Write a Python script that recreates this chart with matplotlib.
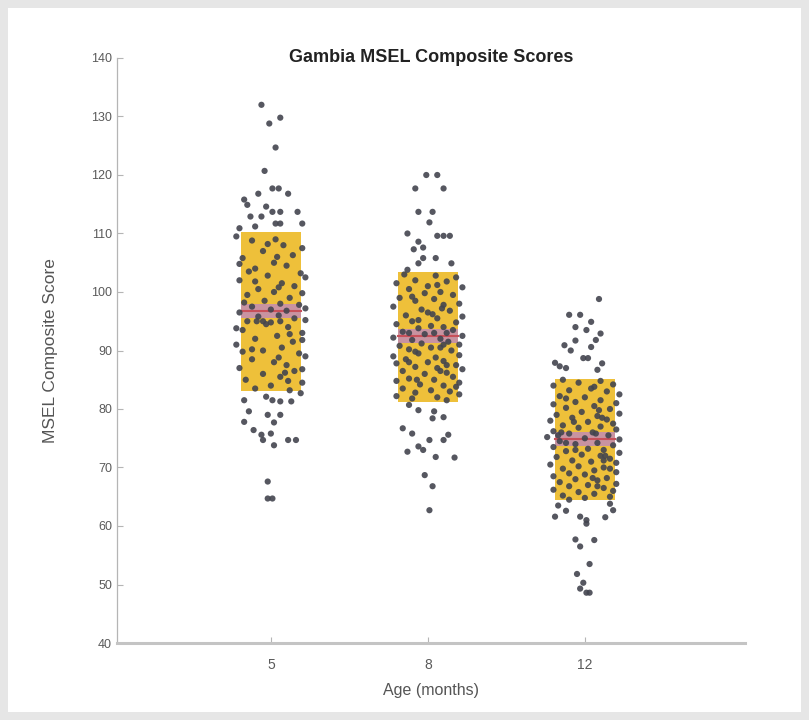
"""
plot.py

Gambia MSEL composite scores by age: jittered points over mean +/- SD boxes.
"""

import matplotlib.pyplot as plt
from matplotlib.patches import Rectangle

plt.rcParams["font.family"] = ["Liberation Sans", "DejaVu Sans"]

ages = ["5", "8", "12"]

# summary: mean, box low (mean - SD), box high (mean + SD)
means = [96.8, 92.5, 74.8]
box_low = [83.0, 81.2, 64.5]
box_high = [110.2, 103.5, 85.1]

# scores per age group (y) and their horizontal jitter (in category units)
scores_5 = [
    132.0, 128.8, 129.8, 124.7, 120.7, 117.7, 117.7, 116.8, 116.8, 115.8, 114.9,
    114.6, 113.7, 113.7, 113.7, 112.9, 112.9, 111.7, 111.7, 111.7, 110.9, 111.2,
    109.5, 108.8, 108.0, 107.5, 107.0, 106.3, 105.8, 105.0, 104.5, 104.0, 103.2,
    102.8, 102.0, 101.5, 101.0, 100.5, 100.0, 99.5, 99.0, 98.5, 98.0, 97.8,
    97.5, 97.0, 96.8, 96.5, 96.0, 95.8, 95.5, 95.2, 95.0, 94.8, 94.5, 94.0,
    93.5, 93.0, 92.5, 92.0, 91.5, 91.0, 90.5, 90.0, 89.5, 89.0, 88.5, 88.0,
    87.5, 87.0, 86.5, 86.0, 85.5, 85.0, 84.5, 84.0, 83.5, 83.2, 104.8, 102.5,
    99.8, 93.8, 91.8, 89.8, 86.8, 97.2,
    108.2, 106.0, 103.5, 100.8, 98.2, 95.0, 95.0, 95.0, 92.8, 90.2, 88.8, 86.2,
    84.8, 109.0, 101.8,
    81.5, 82.1, 81.5, 81.3, 81.3, 82.7, 79.6, 79.0, 79.0, 77.8, 77.7, 76.4,
    75.6, 75.8, 74.7, 73.8, 74.7, 74.7, 67.6, 64.7, 64.7,
]
jitter_5 = [
    -0.06, -0.01, 0.06, 0.03, -0.04, 0.01, 0.05, -0.08, 0.11, -0.17, -0.15,
    -0.03, 0.01, 0.06, 0.17, -0.13, -0.06, 0.03, 0.06, 0.20, -0.20, -0.10,
    -0.22, -0.12, 0.08, 0.20, -0.05, 0.14, -0.18, 0.02, 0.10, -0.10, 0.19,
    -0.02, -0.20, 0.07, 0.15, -0.08, 0.02, -0.15, 0.12, -0.04, 0.06, 0.18,
    -0.12, 0.00, 0.10, -0.20, 0.05, -0.08, 0.15, 0.22, -0.15, 0.00, -0.03, 0.11,
    -0.18, 0.20, 0.04, -0.10, 0.14, -0.22, 0.07, -0.05, 0.18, 0.22, -0.12, 0.02,
    0.10, -0.20, 0.15, -0.05, 0.06, -0.16, 0.20, 0.00, -0.10, 0.12, -0.20, 0.22,
    0.20, -0.22, 0.20, -0.18, 0.20, 0.22,
    -0.02, 0.04, -0.14, 0.05, -0.17, -0.09, -0.05, 0.06, 0.12, -0.12, 0.05,
    0.09, 0.11, 0.03, -0.10,
    -0.17, -0.03, 0.01, 0.06, 0.13, 0.19, -0.14, -0.02, 0.06, -0.17, 0.02, -0.11,
    -0.06, 0.00, -0.05, 0.02, 0.11, 0.16, -0.02, -0.02, 0.01,
]

scores_8 = [
    120.0, 120.0, 117.7, 117.7, 113.7, 113.7, 111.9, 109.6, 109.6, 109.6, 110.0,
    108.6, 107.6, 107.3, 105.8, 104.9, 105.8, 104.9, 103.8,
    103.0, 102.8, 102.5, 102.0, 101.8, 101.5, 101.0, 100.8, 100.5, 100.0, 99.8,
    99.5, 99.0, 98.8, 98.5, 98.0, 97.8, 97.5, 97.0, 96.8, 96.5, 96.0, 95.8,
    95.5, 95.0, 94.8, 94.5, 94.2, 94.0, 93.8, 93.5, 93.2, 93.0, 92.8, 92.5,
    92.2, 92.0, 91.8, 91.5, 91.2, 91.0, 90.8, 90.5, 90.2, 90.0, 89.5, 89.2,
    89.0, 88.8, 88.5, 88.2, 88.0, 87.8, 87.5, 87.2, 87.0, 86.8, 86.5, 86.2,
    86.0, 85.5, 85.2, 85.0, 84.8, 84.5, 84.2, 84.0, 83.5, 83.2, 83.0, 82.8,
    82.5, 82.2, 82.0, 81.8, 81.5,
    101.2, 99.2, 97.2, 95.2, 93.0, 93.0, 91.0, 89.8, 88.0, 86.5, 85.0, 83.8,
    96.2, 90.5, 87.5,
    80.7, 79.8, 79.6, 78.4, 78.6, 76.7, 75.8, 75.6, 74.7, 74.7, 73.6, 73.0,
    72.7, 71.8, 71.7, 68.7, 66.8, 62.7,
]
jitter_8 = [
    -0.01, 0.06, -0.08, 0.10, -0.06, 0.03, 0.01, 0.06, 0.10, 0.14, -0.13,
    -0.06, -0.03, -0.09, -0.03, -0.06, 0.05, 0.15, -0.13,
    -0.15, 0.05, 0.18, -0.08, 0.12, -0.20, 0.00, 0.22, -0.12, 0.08, -0.02,
    0.16, -0.18, 0.04, -0.08, 0.20, 0.10, -0.22, -0.04, 0.14, 0.00, -0.14, 0.22,
    0.06, -0.10, 0.18, -0.20, 0.02, 0.10, -0.06, 0.16, -0.16, 0.04, -0.02, 0.22,
    -0.22, 0.08, -0.10, 0.13, -0.04, 0.20, -0.18, 0.02, -0.12, 0.15, -0.06, 0.20,
    -0.22, 0.05, -0.14, 0.10, 0.00, -0.20, 0.18, -0.08, 0.06, 0.22, -0.16, 0.12,
    -0.02, 0.16, -0.12, 0.04, -0.20, 0.20, -0.05, 0.10, -0.16, 0.02, 0.14, -0.08,
    0.20, -0.20, 0.06, -0.10, 0.12,
    0.06, -0.10, 0.09, -0.06, 0.12, -0.12, 0.10, -0.08, -0.12, 0.08, -0.07, 0.18,
    0.03, 0.08, 0.12,
    -0.12, -0.06, 0.04, 0.03, 0.10, -0.16, -0.10, 0.13, 0.10, 0.01, -0.06, -0.03,
    -0.13, 0.05, 0.17, -0.02, 0.03, 0.01,
]

scores_12 = [
    98.8, 96.1, 96.1, 94.9, 94.0, 93.5, 92.9, 91.7, 91.8, 90.9, 90.0, 90.6,
    88.7, 88.7, 87.9, 87.3, 87.8, 87.0, 86.7,
    85.0, 84.8, 84.5, 84.2, 84.0, 83.5, 83.2, 83.0, 82.5, 82.2, 82.0, 81.5,
    81.2, 81.0, 80.8, 80.5, 80.2, 80.0, 79.5, 79.2, 79.0, 78.8, 78.5, 78.2,
    78.0, 77.8, 77.5, 77.2, 77.0, 76.8, 76.5, 76.2, 76.0, 75.8, 75.5, 75.2,
    75.0, 74.8, 74.5, 74.2, 74.0, 73.8, 73.5, 73.2, 73.0, 72.8, 72.5, 72.2,
    72.0, 71.8, 71.5, 71.2, 71.0, 70.8, 70.5, 70.2, 70.0, 69.8, 69.5, 69.2,
    69.0, 68.8, 68.5, 68.2, 68.0, 67.8, 67.5, 67.2, 67.0, 66.8, 66.5, 66.2,
    66.0, 65.8, 65.5, 65.2, 65.0, 64.8, 64.5,
    83.8, 81.8, 79.8, 77.8, 75.8, 75.5, 74.2, 73.0, 71.2, 69.8, 68.2, 66.8,
    78.5, 72.0, 76.0,
    63.5, 63.8, 61.6, 62.6, 61.6, 61.0, 60.4, 61.5, 62.7, 57.7, 56.5, 57.6,
    53.5, 51.8, 50.3, 49.3, 48.6, 48.6,
]
jitter_12 = [
    0.09, -0.10, -0.03, 0.04, -0.06, 0.01, 0.10, -0.06, 0.07, -0.13, -0.09, 0.04,
    -0.01, 0.02, -0.19, -0.16, 0.11, -0.12, 0.08,
    -0.14, 0.10, -0.04, 0.18, -0.20, 0.04, -0.10, 0.14, 0.22, -0.16, 0.00, 0.10,
    -0.06, 0.20, -0.20, 0.06, -0.12, 0.16, -0.02, 0.22, -0.18, 0.08, -0.08, 0.14,
    -0.22, 0.02, 0.18, -0.14, 0.10, -0.04, 0.20, -0.20, 0.05, -0.10, 0.15, -0.24,
    0.00, 0.22, -0.16, 0.08, -0.06, 0.18, -0.20, 0.02, 0.12, -0.12, 0.22, -0.02,
    0.10, -0.18, 0.16, -0.08, 0.04, 0.20, -0.22, -0.04, 0.12, -0.14, 0.06, 0.20,
    -0.10, 0.00, -0.20, 0.14, -0.06, 0.08, -0.16, 0.20, 0.02, -0.10, 0.12, -0.20,
    0.18, -0.04, 0.06, -0.14, 0.16, 0.00, -0.10,
    0.06, -0.12, 0.09, -0.07, 0.07, -0.17, -0.12, -0.06, 0.12, 0.16, 0.05, 0.08,
    0.11, 0.13, -0.15,
    -0.17, 0.16, -0.19, -0.12, -0.03, 0.01, 0.01, 0.13, 0.18, -0.06, -0.03, 0.06,
    0.03, -0.05, -0.01, -0.03, 0.03, 0.01,
]

y_ticks = [40, 50, 60, 70, 80, 90, 100, 110, 120, 130, 140]

all_scores = [scores_5, scores_8, scores_12]
all_jitter = [jitter_5, jitter_8, jitter_12]

fig = plt.figure(figsize=(8.09, 7.2), dpi=100)
fig.patch.set_facecolor("#e6e6e6")
fig.add_artist(
    Rectangle((8 / 809, 8 / 720), 793 / 809, 704 / 720,
              transform=fig.transFigure, facecolor="white", edgecolor="none",
              zorder=0)
)

ax = fig.add_axes([117 / 809, 77 / 720, 628 / 809, 585 / 720])
ax.set_facecolor("white")

half_width = 0.19
for i, (ys, js) in enumerate(zip(all_scores, all_jitter)):
    pos = i + 1
    ax.add_patch(
        Rectangle((pos - half_width, box_low[i]), 2 * half_width,
                  box_high[i] - box_low[i], facecolor="#edba24", alpha=0.9,
                  edgecolor="none", zorder=1)
    )
    ax.add_patch(
        Rectangle((pos - half_width, means[i] - 1.2), 2 * half_width, 2.4,
                  facecolor="#c28cb4", alpha=0.85, edgecolor="none", zorder=2)
    )
    ax.plot([pos - half_width, pos + half_width], [means[i], means[i]],
            color="#c8505a", linewidth=1.5, zorder=2)
    ax.scatter([pos + j for j in js], ys, s=20, color="#43454f",
               edgecolors="none", alpha=0.9, zorder=3)

ax.set_xlim(0.02, 4.02)
ax.set_ylim(40, 140)
ax.set_xticks([1, 2, 3])
ax.set_xticklabels(ages)
ax.set_yticks(y_ticks)

for side in ["top", "right"]:
    ax.spines[side].set_visible(False)
ax.spines["left"].set_color("#b5b5b5")
ax.spines["left"].set_linewidth(0.9)
ax.spines["bottom"].set_color("#c4c4c4")
ax.spines["bottom"].set_linewidth(2.2)
ax.tick_params(direction="in", length=4, color="#b5b5b5",
               labelsize=9, labelcolor="#5a5a5a")
ax.tick_params(axis="x", pad=11, labelsize=10)

ax.set_xlabel("Age (months)", fontsize=11.5, color="#555555", labelpad=8)
ax.set_ylabel("MSEL Composite Score", fontsize=12.5, color="#555555",
              labelpad=24)
ax.text(0.5, 1.0, "Gambia MSEL Composite Scores", transform=ax.transAxes,
        ha="center", va="center", fontsize=13, fontweight="bold",
        color="#222222")

fig.savefig("out.png", dpi=100, facecolor=fig.get_facecolor())
